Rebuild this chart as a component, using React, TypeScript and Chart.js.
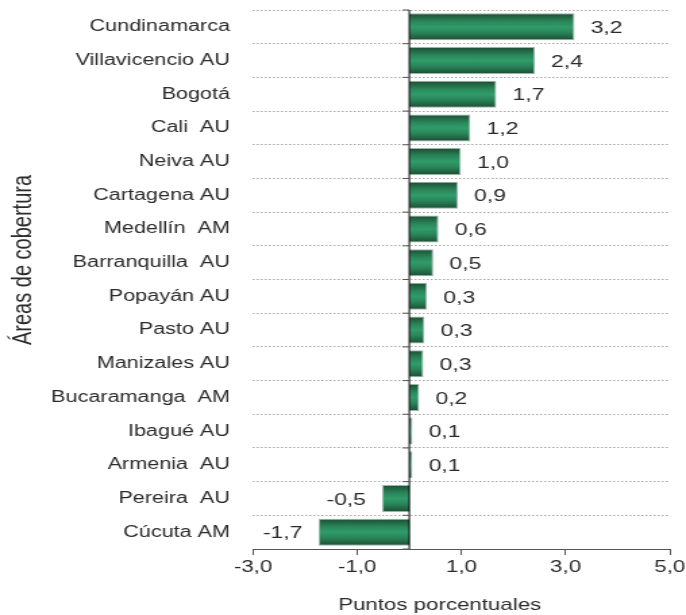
import { useEffect, useRef } from 'react';
import { Chart, registerables } from 'chart.js';
Chart.register(...registerables);

const categories = [
  'Cundinamarca',
  'Villavicencio AU',
  'Bogotá',
  'Cali  AU',
  'Neiva AU',
  'Cartagena AU',
  'Medellín  AM',
  'Barranquilla  AU',
  'Popayán AU',
  'Pasto AU',
  'Manizales AU',
  'Bucaramanga  AM',
  'Ibagué AU',
  'Armenia  AU',
  'Pereira  AU',
  'Cúcuta AM',
];
const values = [3.17, 2.41, 1.67, 1.17, 0.99, 0.93, 0.56, 0.46, 0.34, 0.29, 0.27, 0.19, 0.06, 0.06, -0.52, -1.74];
const xTicks = [-3, -1, 1, 3, 5];
const xTitle = 'Puntos porcentuales';
const yTitle = 'Áreas de cobertura';

const FONT = '"Liberation Sans", Arial, sans-serif';
const TEXT = '#2b2b2b';
const fmt = (v: number) => v.toFixed(1).replace('.', ',');

const CANVAS_W = 508;
const CANVAS_H = 615;

const decor = {
  id: 'decor',
  afterDatasetsDraw(chart: any) {
    const { ctx, chartArea, scales } = chart;
    const xs = scales.x;
    const x0 = xs.getPixelForValue(0);
    ctx.save();
    ctx.strokeStyle = '#000';
    ctx.lineWidth = 1;
    ctx.beginPath();
    ctx.moveTo(x0, chartArea.top);
    ctx.lineTo(x0, chartArea.bottom);
    ctx.stroke();
    const n = categories.length;
    const step = (chartArea.bottom - chartArea.top) / n;
    ctx.strokeStyle = '#555';
    for (let i = 0; i <= n; i++) {
      const y = chartArea.top + i * step;
      ctx.beginPath();
      ctx.moveTo(x0 - 5, y);
      ctx.lineTo(x0, y);
      ctx.stroke();
    }
    const meta = chart.getDatasetMeta(0);
    ctx.font = `17px ${FONT}`;
    ctx.fillStyle = TEXT;
    ctx.textBaseline = 'middle';
    meta.data.forEach((el: any, i: number) => {
      const v = values[i];
      const txt = fmt(v);
      if (v >= 0) {
        ctx.textAlign = 'left';
        ctx.fillText(txt, el.x + 12, el.y + 1.5);
      } else {
        ctx.textAlign = 'right';
        ctx.fillText(txt, el.x - 12, el.y + 1.5);
      }
    });
    ctx.restore();
  },
  afterDraw(chart: any) {
    const { ctx } = chart;
    ctx.save();
    ctx.fillStyle = TEXT;
    ctx.textBaseline = 'middle';
    ctx.textAlign = 'center';
    ctx.font = `16.5px ${FONT}`;
    ctx.fillText(xTitle, 325.6, 605);
    ctx.translate(17, 260);
    ctx.rotate(-Math.PI / 2);
    ctx.font = `20px ${FONT}`;
    ctx.fillText(yTitle, 0, 0);
    ctx.restore();
  },
};

export default function App() {
  const ref = useRef<HTMLCanvasElement | null>(null);
  useEffect(() => {
    document.body.style.margin = '0';
    const canvas = ref.current!;
    const chart = new Chart(canvas, {
      type: 'bar',
      data: {
        labels: categories,
        datasets: [
          {
            data: values,
            backgroundColor: (c: any) => {
              const ch = c.chart;
              const ys = ch.scales?.y;
              if (!ys || c.dataIndex === undefined) return '#2b8a5d';
              const cy = ys.getPixelForValue(c.dataIndex);
              const h = (ys.height / categories.length) * 0.8;
              if (!Number.isFinite(cy) || !Number.isFinite(h) || h <= 0) return '#2b8a5d';
              const g = ch.ctx.createLinearGradient(0, cy - h / 2, 0, cy + h / 2);
              g.addColorStop(0, '#1b4c32');
              g.addColorStop(0.3, '#2a865a');
              g.addColorStop(0.5, '#309c6a');
              g.addColorStop(0.7, '#2a865a');
              g.addColorStop(1, '#1b4c32');
              return g;
            },
            borderColor: '#98b4a5',
            borderWidth: 1,
            barPercentage: 0.8,
            categoryPercentage: 1,
          },
        ],
      },
      options: {
        indexAxis: 'y',
        animation: false,
        responsive: false,
        devicePixelRatio: 1,
        events: [],
        layout: { padding: { top: 10, right: 12, bottom: 0, left: 0 } },
        plugins: { legend: { display: false }, tooltip: { enabled: false } },
        scales: {
          x: {
            type: 'linear',
            min: -3,
            max: 5,
            afterBuildTicks: (s: any) => {
              s.ticks = xTicks.map((v) => ({ value: v }));
            },
            afterFit: (s: any) => {
              s.height = 66;
              s.paddingLeft = 0;
              s.paddingRight = 0;
            },
            grid: {
              drawOnChartArea: false,
              drawTicks: true,
              tickLength: 6,
              color: '#555',
            },
            border: { display: true, color: '#555', width: 1 },
            ticks: {
              padding: 3,
              color: TEXT,
              font: { family: FONT, size: 16.5 },
              callback: (v: any) => fmt(Number(v)),
            },
          },
          y: {
            type: 'category',
            afterFit: (s: any) => {
              s.width = 187.35;
              s.paddingTop = 0;
              s.paddingBottom = 0;
            },
            grid: {
              offset: true,
              drawTicks: false,
              color: '#a8a8a8',
              lineWidth: 1,
            },
            border: { display: false, dash: [1.5, 1.5] },
            ticks: {
              padding: 17,
              color: TEXT,
              font: { family: FONT, size: 16 },
            },
          },
        },
      },
      plugins: [decor],
    } as any);
    return () => chart.destroy();
  }, []);
  return (
    <canvas
      ref={ref}
      width={CANVAS_W}
      height={CANVAS_H}
      style={{ width: '686px', height: '615px', display: 'block' }}
    />
  );
}
